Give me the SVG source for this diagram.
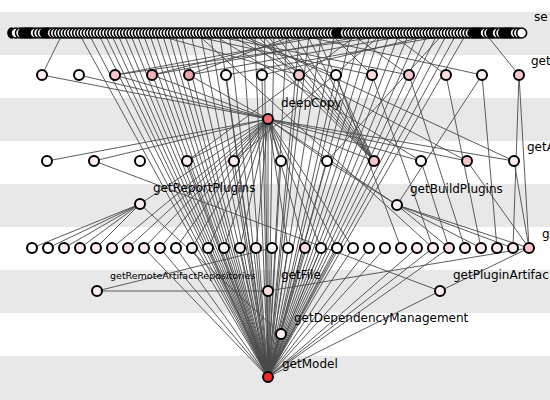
<svg xmlns="http://www.w3.org/2000/svg" width="550" height="400" viewBox="0 0 550 400">
<style>
.bg{fill:#e8e8e8}
.e line{stroke:#4a4a4a;stroke-width:0.9}
.n circle{stroke:#000;stroke-width:2;fill:#fff}
.t circle{stroke:#000;stroke-width:1.6;fill:#fff}
.pk{fill:#000}
circle.p1{fill:#fdeef0}
circle.p2{fill:#fbdde1}
circle.p3{fill:#f7c6cb}
circle.p4{fill:#f3b3ba}
circle.p5{fill:#ef9fa8}
circle.dc{fill:#f06b73}
circle.gm{fill:#ee2b2b}
text{font-family:"DejaVu Sans","Liberation Sans",sans-serif;font-size:12px;fill:#000}
</style>
<rect width="550" height="400" fill="#fff"/>
<rect class="bg" x="0" y="12" width="550" height="43"/>
<rect class="bg" x="0" y="98" width="550" height="43"/>
<rect class="bg" x="0" y="184" width="550" height="43"/>
<rect class="bg" x="0" y="270" width="550" height="43"/>
<rect class="bg" x="0" y="356" width="550" height="44"/>
<g id="connectors" class="e">
<line x1="78.8" y1="33" x2="268" y2="377"/><line x1="88.4" y1="33" x2="268" y2="377"/><line x1="98" y1="33" x2="268" y2="377"/><line x1="104.4" y1="33" x2="268" y2="377"/><line x1="110.8" y1="33" x2="268" y2="377"/><line x1="117.2" y1="33" x2="268" y2="377"/><line x1="123.6" y1="33" x2="268" y2="377"/><line x1="130" y1="33" x2="268" y2="377"/><line x1="136.4" y1="33" x2="268" y2="377"/><line x1="142.8" y1="33" x2="268" y2="377"/><line x1="149.2" y1="33" x2="268" y2="377"/><line x1="155.6" y1="33" x2="268" y2="377"/><line x1="162" y1="33" x2="268" y2="377"/><line x1="168.4" y1="33" x2="268" y2="377"/><line x1="174.8" y1="33" x2="268" y2="377"/><line x1="181.2" y1="33" x2="268" y2="377"/><line x1="190.8" y1="33" x2="268" y2="377"/><line x1="200.4" y1="33" x2="268" y2="377"/><line x1="210" y1="33" x2="268" y2="377"/><line x1="219.6" y1="33" x2="268" y2="377"/><line x1="229.2" y1="33" x2="268" y2="377"/><line x1="242" y1="33" x2="268" y2="377"/><line x1="254.8" y1="33" x2="268" y2="377"/><line x1="264.4" y1="33" x2="268" y2="377"/><line x1="274" y1="33" x2="268" y2="377"/><line x1="286.8" y1="33" x2="268" y2="377"/><line x1="299.6" y1="33" x2="268" y2="377"/><line x1="309.2" y1="33" x2="268" y2="377"/><line x1="322" y1="33" x2="268" y2="377"/><line x1="334.8" y1="33" x2="268" y2="377"/><line x1="351.4" y1="33" x2="268" y2="377"/><line x1="361" y1="33" x2="268" y2="377"/><line x1="370.6" y1="33" x2="268" y2="377"/><line x1="380.2" y1="33" x2="268" y2="377"/><line x1="389.8" y1="33" x2="268" y2="377"/><line x1="399.4" y1="33" x2="268" y2="377"/><line x1="409" y1="33" x2="268" y2="377"/><line x1="418.6" y1="33" x2="268" y2="377"/><line x1="428.2" y1="33" x2="268" y2="377"/><line x1="437.8" y1="33" x2="268" y2="377"/><line x1="447.4" y1="33" x2="268" y2="377"/><line x1="457" y1="33" x2="268" y2="377"/><line x1="466.6" y1="33" x2="268" y2="377"/>
<line x1="62.8" y1="33" x2="42" y2="75"/><line x1="340" y1="33" x2="115" y2="75"/><line x1="380" y1="33" x2="152" y2="75"/><line x1="300" y1="33" x2="189" y2="75"/><line x1="420" y1="33" x2="189" y2="75"/><line x1="150" y1="33" x2="299" y2="75"/><line x1="260" y1="33" x2="299" y2="75"/><line x1="180" y1="33" x2="372" y2="75"/><line x1="330" y1="33" x2="372" y2="75"/><line x1="200" y1="33" x2="409" y2="75"/><line x1="350" y1="33" x2="409" y2="75"/><line x1="390" y1="33" x2="446" y2="75"/><line x1="440" y1="33" x2="262" y2="75"/><line x1="460" y1="33" x2="226" y2="75"/><line x1="485" y1="33" x2="519" y2="75"/><line x1="230" y1="33" x2="336" y2="75"/><line x1="290" y1="33" x2="482" y2="75"/><line x1="405" y1="33" x2="115" y2="75"/><line x1="320" y1="33" x2="152" y2="75"/>
<line x1="245" y1="33" x2="374" y2="161"/><line x1="255" y1="33" x2="374" y2="161"/><line x1="265" y1="33" x2="374" y2="161"/><line x1="274" y1="33" x2="374" y2="161"/><line x1="283.6" y1="33" x2="374" y2="161"/><line x1="293.2" y1="33" x2="374" y2="161"/><line x1="306" y1="33" x2="374" y2="161"/><line x1="315.6" y1="33" x2="374" y2="161"/>
<line x1="210" y1="33" x2="421" y2="161"/><line x1="225" y1="33" x2="467" y2="161"/><line x1="238" y1="33" x2="514" y2="161"/><line x1="360" y1="33" x2="187" y2="161"/><line x1="383" y1="33" x2="234" y2="161"/><line x1="196" y1="33" x2="433" y2="248"/><line x1="444" y1="33" x2="327" y2="161"/>
<line x1="268" y1="119" x2="187" y2="161"/><line x1="268" y1="119" x2="234" y2="161"/><line x1="268" y1="119" x2="281" y2="161"/><line x1="268" y1="119" x2="327" y2="161"/><line x1="268" y1="119" x2="374" y2="161"/><line x1="268" y1="119" x2="421" y2="161"/><line x1="268" y1="119" x2="467" y2="161"/><line x1="268" y1="119" x2="514" y2="161"/>
<line x1="268" y1="119" x2="112" y2="248"/><line x1="268" y1="119" x2="128" y2="248"/><line x1="268" y1="119" x2="144" y2="248"/><line x1="268" y1="119" x2="160" y2="248"/><line x1="268" y1="119" x2="176" y2="248"/><line x1="268" y1="119" x2="192" y2="248"/><line x1="268" y1="119" x2="208" y2="248"/><line x1="268" y1="119" x2="224" y2="248"/><line x1="268" y1="119" x2="240" y2="248"/><line x1="268" y1="119" x2="256" y2="248"/><line x1="268" y1="119" x2="288" y2="248"/><line x1="268" y1="119" x2="305" y2="248"/><line x1="268" y1="119" x2="321" y2="248"/><line x1="268" y1="119" x2="337" y2="248"/><line x1="268" y1="119" x2="353" y2="248"/>
<line x1="268" y1="119" x2="140" y2="204"/><line x1="268" y1="119" x2="397" y2="205"/><line x1="268" y1="119" x2="268" y2="291"/>
<line x1="42" y1="75" x2="268" y2="119"/><line x1="79" y1="75" x2="268" y2="119"/><line x1="115" y1="75" x2="268" y2="119"/><line x1="152" y1="75" x2="268" y2="119"/><line x1="189" y1="75" x2="268" y2="119"/><line x1="47" y1="161" x2="268" y2="119"/><line x1="94" y1="161" x2="268" y2="119"/>
<line x1="226" y1="75" x2="268" y2="377"/><line x1="262" y1="75" x2="268" y2="377"/><line x1="299" y1="75" x2="268" y2="377"/><line x1="336" y1="75" x2="268" y2="377"/>
<line x1="372" y1="75" x2="433" y2="248"/><line x1="409" y1="75" x2="465" y2="248"/><line x1="446" y1="75" x2="481" y2="248"/><line x1="482" y1="75" x2="497" y2="248"/><line x1="519" y1="75" x2="513" y2="248"/><line x1="519" y1="75" x2="529" y2="248"/><line x1="336" y1="75" x2="401" y2="248"/><line x1="482" y1="75" x2="397" y2="205"/>
<line x1="94" y1="161" x2="440" y2="291"/><line x1="514" y1="161" x2="529" y2="248"/><line x1="467" y1="161" x2="529" y2="248"/><line x1="327" y1="161" x2="397" y2="205"/><line x1="187" y1="161" x2="268" y2="377"/><line x1="234" y1="161" x2="268" y2="377"/><line x1="281" y1="161" x2="268" y2="377"/><line x1="327" y1="161" x2="268" y2="377"/><line x1="421" y1="161" x2="449" y2="248"/>
<line x1="140" y1="204" x2="32" y2="248"/><line x1="140" y1="204" x2="48" y2="248"/><line x1="140" y1="204" x2="64" y2="248"/><line x1="140" y1="204" x2="80" y2="248"/><line x1="140" y1="204" x2="96" y2="248"/><line x1="140" y1="204" x2="281" y2="334"/>
<line x1="397" y1="205" x2="449" y2="248"/><line x1="397" y1="205" x2="481" y2="248"/><line x1="397" y1="205" x2="513" y2="248"/><line x1="397" y1="205" x2="529" y2="248"/>
<line x1="144" y1="248" x2="268" y2="377"/><line x1="160" y1="248" x2="268" y2="377"/><line x1="176" y1="248" x2="268" y2="377"/><line x1="192" y1="248" x2="268" y2="377"/><line x1="208" y1="248" x2="268" y2="377"/><line x1="224" y1="248" x2="268" y2="377"/><line x1="240" y1="248" x2="268" y2="377"/><line x1="256" y1="248" x2="268" y2="377"/><line x1="272" y1="248" x2="268" y2="377"/><line x1="288" y1="248" x2="268" y2="377"/><line x1="305" y1="248" x2="268" y2="377"/><line x1="321" y1="248" x2="268" y2="377"/><line x1="337" y1="248" x2="268" y2="377"/><line x1="353" y1="248" x2="268" y2="377"/><line x1="369" y1="248" x2="268" y2="377"/><line x1="385" y1="248" x2="268" y2="377"/><line x1="417" y1="248" x2="268" y2="377"/><line x1="433" y1="248" x2="268" y2="377"/><line x1="449" y1="248" x2="268" y2="377"/>
<line x1="97" y1="291" x2="272" y2="248"/><line x1="97" y1="291" x2="268" y2="291"/><line x1="268" y1="291" x2="529" y2="248"/><line x1="268" y1="291" x2="268" y2="377"/><line x1="440" y1="291" x2="268" y2="377"/><line x1="440" y1="291" x2="529" y2="248"/><line x1="281" y1="334" x2="268" y2="377"/>
</g>
<g id="toprow" class="t">
<rect class="pk" x="7.2" y="27.2" width="8.8" height="11.6" rx="5.8"/>
<g id="t1"><circle cx="16" cy="33" r="5"/></g><g id="t2"><circle cx="20.5" cy="33" r="5"/></g>
<rect class="pk" x="17.9" y="27.2" width="19.7" height="11.6" rx="5.8"/>
<g id="t3"><circle cx="35" cy="33" r="5"/></g><g id="t4"><circle cx="38.5" cy="33" r="5"/></g><g id="t5"><circle cx="42" cy="33" r="5"/></g>
<rect class="pk" x="39.4" y="27.2" width="15.2" height="11.6" rx="5.8"/>
<g id="t6"><circle class="p2" cx="52" cy="33" r="5"/></g><g id="t7"><circle cx="55.2" cy="33" r="5"/></g><g id="t8"><circle cx="58.4" cy="33" r="5"/></g><g id="t9"><circle cx="61.6" cy="33" r="5"/></g><g id="t10"><circle cx="64.8" cy="33" r="5"/></g><g id="t11"><circle cx="68" cy="33" r="5"/></g><g id="t12"><circle cx="71.2" cy="33" r="5"/></g><g id="t13"><circle cx="74.4" cy="33" r="5"/></g><g id="t14"><circle cx="77.6" cy="33" r="5"/></g><g id="t15"><circle cx="80.8" cy="33" r="5"/></g><g id="t16"><circle cx="84" cy="33" r="5"/></g><g id="t17"><circle cx="87.2" cy="33" r="5"/></g><g id="t18"><circle cx="90.4" cy="33" r="5"/></g><g id="t19"><circle cx="93.6" cy="33" r="5"/></g><g id="t20"><circle cx="96.8" cy="33" r="5"/></g><g id="t21"><circle cx="100" cy="33" r="5"/></g><g id="t22"><circle cx="103.2" cy="33" r="5"/></g><g id="t23"><circle cx="106.4" cy="33" r="5"/></g><g id="t24"><circle cx="109.6" cy="33" r="5"/></g><g id="t25"><circle cx="112.8" cy="33" r="5"/></g><g id="t26"><circle cx="116" cy="33" r="5"/></g><g id="t27"><circle cx="119.2" cy="33" r="5"/></g><g id="t28"><circle cx="122.4" cy="33" r="5"/></g><g id="t29"><circle cx="125.6" cy="33" r="5"/></g><g id="t30"><circle cx="128.8" cy="33" r="5"/></g><g id="t31"><circle cx="132" cy="33" r="5"/></g><g id="t32"><circle cx="135.2" cy="33" r="5"/></g><g id="t33"><circle cx="138.4" cy="33" r="5"/></g><g id="t34"><circle cx="141.6" cy="33" r="5"/></g><g id="t35"><circle cx="144.8" cy="33" r="5"/></g><g id="t36"><circle cx="148" cy="33" r="5"/></g><g id="t37"><circle cx="151.2" cy="33" r="5"/></g><g id="t38"><circle cx="154.4" cy="33" r="5"/></g><g id="t39"><circle cx="157.6" cy="33" r="5"/></g><g id="t40"><circle cx="160.8" cy="33" r="5"/></g><g id="t41"><circle cx="164" cy="33" r="5"/></g><g id="t42"><circle cx="167.2" cy="33" r="5"/></g><g id="t43"><circle cx="170.4" cy="33" r="5"/></g><g id="t44"><circle cx="173.6" cy="33" r="5"/></g><g id="t45"><circle cx="176.8" cy="33" r="5"/></g><g id="t46"><circle cx="180" cy="33" r="5"/></g><g id="t47"><circle cx="183.2" cy="33" r="5"/></g><g id="t48"><circle cx="186.4" cy="33" r="5"/></g><g id="t49"><circle cx="189.6" cy="33" r="5"/></g><g id="t50"><circle cx="192.8" cy="33" r="5"/></g><g id="t51"><circle cx="196" cy="33" r="5"/></g><g id="t52"><circle cx="199.2" cy="33" r="5"/></g><g id="t53"><circle cx="202.4" cy="33" r="5"/></g><g id="t54"><circle cx="205.6" cy="33" r="5"/></g><g id="t55"><circle cx="208.8" cy="33" r="5"/></g><g id="t56"><circle cx="212" cy="33" r="5"/></g><g id="t57"><circle cx="215.2" cy="33" r="5"/></g><g id="t58"><circle cx="218.4" cy="33" r="5"/></g><g id="t59"><circle cx="221.6" cy="33" r="5"/></g><g id="t60"><circle cx="224.8" cy="33" r="5"/></g><g id="t61"><circle cx="228" cy="33" r="5"/></g><g id="t62"><circle cx="231.2" cy="33" r="5"/></g><g id="t63"><circle cx="234.4" cy="33" r="5"/></g><g id="t64"><circle cx="237.6" cy="33" r="5"/></g><g id="t65"><circle cx="240.8" cy="33" r="5"/></g><g id="t66"><circle cx="244" cy="33" r="5"/></g><g id="t67"><circle cx="247.2" cy="33" r="5"/></g><g id="t68"><circle cx="250.4" cy="33" r="5"/></g><g id="t69"><circle cx="253.6" cy="33" r="5"/></g><g id="t70"><circle cx="256.8" cy="33" r="5"/></g><g id="t71"><circle cx="260" cy="33" r="5"/></g><g id="t72"><circle cx="263.2" cy="33" r="5"/></g><g id="t73"><circle cx="266.4" cy="33" r="5"/></g><g id="t74"><circle cx="269.6" cy="33" r="5"/></g><g id="t75"><circle cx="272.8" cy="33" r="5"/></g><g id="t76"><circle cx="276" cy="33" r="5"/></g><g id="t77"><circle cx="279.2" cy="33" r="5"/></g><g id="t78"><circle cx="282.4" cy="33" r="5"/></g><g id="t79"><circle cx="285.6" cy="33" r="5"/></g><g id="t80"><circle cx="288.8" cy="33" r="5"/></g><g id="t81"><circle cx="292" cy="33" r="5"/></g><g id="t82"><circle cx="295.2" cy="33" r="5"/></g><g id="t83"><circle cx="298.4" cy="33" r="5"/></g><g id="t84"><circle cx="301.6" cy="33" r="5"/></g><g id="t85"><circle cx="304.8" cy="33" r="5"/></g><g id="t86"><circle cx="308" cy="33" r="5"/></g><g id="t87"><circle cx="311.2" cy="33" r="5"/></g><g id="t88"><circle cx="314.4" cy="33" r="5"/></g><g id="t89"><circle cx="317.6" cy="33" r="5"/></g><g id="t90"><circle cx="320.8" cy="33" r="5"/></g><g id="t91"><circle cx="324" cy="33" r="5"/></g><g id="t92"><circle cx="327.2" cy="33" r="5"/></g><g id="t93"><circle cx="330.4" cy="33" r="5"/></g><g id="t94"><circle cx="333.6" cy="33" r="5"/></g>
<rect class="pk" x="331" y="27.2" width="16.6" height="11.6" rx="5.8"/>
<g id="t95"><circle cx="345" cy="33" r="5"/></g><g id="t96"><circle cx="348.2" cy="33" r="5"/></g><g id="t97"><circle cx="351.4" cy="33" r="5"/></g><g id="t98"><circle cx="354.6" cy="33" r="5"/></g><g id="t99"><circle cx="357.8" cy="33" r="5"/></g><g id="t100"><circle cx="361" cy="33" r="5"/></g><g id="t101"><circle cx="364.2" cy="33" r="5"/></g><g id="t102"><circle cx="367.4" cy="33" r="5"/></g><g id="t103"><circle cx="370.6" cy="33" r="5"/></g><g id="t104"><circle cx="373.8" cy="33" r="5"/></g><g id="t105"><circle cx="377" cy="33" r="5"/></g><g id="t106"><circle cx="380.2" cy="33" r="5"/></g><g id="t107"><circle cx="383.4" cy="33" r="5"/></g><g id="t108"><circle cx="386.6" cy="33" r="5"/></g><g id="t109"><circle cx="389.8" cy="33" r="5"/></g><g id="t110"><circle cx="393" cy="33" r="5"/></g><g id="t111"><circle cx="396.2" cy="33" r="5"/></g><g id="t112"><circle cx="399.4" cy="33" r="5"/></g><g id="t113"><circle cx="402.6" cy="33" r="5"/></g><g id="t114"><circle cx="405.8" cy="33" r="5"/></g><g id="t115"><circle cx="409" cy="33" r="5"/></g><g id="t116"><circle cx="412.2" cy="33" r="5"/></g><g id="t117"><circle cx="415.4" cy="33" r="5"/></g><g id="t118"><circle cx="418.6" cy="33" r="5"/></g><g id="t119"><circle cx="421.8" cy="33" r="5"/></g><g id="t120"><circle cx="425" cy="33" r="5"/></g><g id="t121"><circle cx="428.2" cy="33" r="5"/></g><g id="t122"><circle cx="431.4" cy="33" r="5"/></g><g id="t123"><circle cx="434.6" cy="33" r="5"/></g><g id="t124"><circle cx="437.8" cy="33" r="5"/></g><g id="t125"><circle cx="441" cy="33" r="5"/></g><g id="t126"><circle cx="444.2" cy="33" r="5"/></g><g id="t127"><circle cx="447.4" cy="33" r="5"/></g><g id="t128"><circle cx="450.6" cy="33" r="5"/></g><g id="t129"><circle cx="453.8" cy="33" r="5"/></g><g id="t130"><circle cx="457" cy="33" r="5"/></g><g id="t131"><circle cx="460.2" cy="33" r="5"/></g><g id="t132"><circle cx="463.4" cy="33" r="5"/></g><g id="t133"><circle cx="466.6" cy="33" r="5"/></g><g id="t134"><circle cx="469.8" cy="33" r="5"/></g>
<rect class="pk" x="467.2" y="27.2" width="20.4" height="11.6" rx="5.8"/>
<g id="t135"><circle cx="485" cy="33" r="5"/></g><g id="t136"><circle cx="488.5" cy="33" r="5"/></g>
<rect class="pk" x="485.9" y="27.2" width="13.7" height="11.6" rx="5.8"/>
<g id="t137"><circle cx="497" cy="33" r="5"/></g><g id="t138"><circle cx="500.5" cy="33" r="5"/></g>
<rect class="pk" x="497.9" y="27.2" width="19.7" height="11.6" rx="5.8"/>
<g id="t139"><circle cx="515" cy="33" r="5"/></g><g id="t140"><circle cx="518.3" cy="33" r="5"/></g><g id="t141"><circle cx="521.6" cy="33" r="5"/></g>
</g>
<g class="n">
<g id="r2a"><circle class="p1" cx="42" cy="75" r="5"/></g>
<g id="r2b"><circle cx="79" cy="75" r="5"/></g>
<g id="r2c"><circle class="p3" cx="115" cy="75" r="5"/></g>
<g id="r2d"><circle class="p4" cx="152" cy="75" r="5"/></g>
<g id="r2e"><circle class="p5" cx="189" cy="75" r="5"/></g>
<g id="r2f"><circle cx="226" cy="75" r="5"/></g>
<g id="r2g"><circle cx="262" cy="75" r="5"/></g>
<g id="r2h"><circle class="p3" cx="299" cy="75" r="5"/></g>
<g id="r2i"><circle cx="336" cy="75" r="5"/></g>
<g id="r2j"><circle class="p2" cx="372" cy="75" r="5"/></g>
<g id="r2k"><circle class="p3" cx="409" cy="75" r="5"/></g>
<g id="r2l"><circle class="p2" cx="446" cy="75" r="5"/></g>
<g id="r2m"><circle class="p1" cx="482" cy="75" r="5"/></g>
<g id="r2n"><circle class="p3" cx="519" cy="75" r="5"/></g>
<g id="deepCopy"><circle class="dc" cx="268" cy="119" r="5"/></g>
<g id="r4a"><circle cx="47" cy="161" r="5"/></g>
<g id="r4b"><circle class="p1" cx="94" cy="161" r="5"/></g>
<g id="r4c"><circle cx="140" cy="161" r="5"/></g>
<g id="r4d"><circle class="p1" cx="187" cy="161" r="5"/></g>
<g id="r4e"><circle class="p1" cx="234" cy="161" r="5"/></g>
<g id="r4f"><circle cx="281" cy="161" r="5"/></g>
<g id="r4g"><circle cx="327" cy="161" r="5"/></g>
<g id="r4h"><circle class="p3" cx="374" cy="161" r="5"/></g>
<g id="r4i"><circle cx="421" cy="161" r="5"/></g>
<g id="r4j"><circle class="p3" cx="467" cy="161" r="5"/></g>
<g id="r4k"><circle class="p1" cx="514" cy="161" r="5"/></g>
<g id="getReportPlugins"><circle class="p1" cx="140" cy="204" r="5"/></g>
<g id="getBuildPlugins"><circle class="p1" cx="397" cy="205" r="5"/></g>
<g id="r6a"><circle cx="32" cy="248" r="5"/></g>
<g id="r6b"><circle cx="48" cy="248" r="5"/></g>
<g id="r6c"><circle class="p1" cx="64" cy="248" r="5"/></g>
<g id="r6d"><circle class="p1" cx="80" cy="248" r="5"/></g>
<g id="r6e"><circle class="p1" cx="96" cy="248" r="5"/></g>
<g id="r6f"><circle class="p1" cx="112" cy="248" r="5"/></g>
<g id="r6g"><circle class="p2" cx="128" cy="248" r="5"/></g>
<g id="r6h"><circle class="p1" cx="144" cy="248" r="5"/></g>
<g id="r6i"><circle class="p1" cx="160" cy="248" r="5"/></g>
<g id="r6j"><circle cx="176" cy="248" r="5"/></g>
<g id="r6k"><circle class="p1" cx="192" cy="248" r="5"/></g>
<g id="r6l"><circle cx="208" cy="248" r="5"/></g>
<g id="r6m"><circle cx="224" cy="248" r="5"/></g>
<g id="r6n"><circle class="p1" cx="240" cy="248" r="5"/></g>
<g id="r6o"><circle class="p1" cx="256" cy="248" r="5"/></g>
<g id="r6p"><circle cx="272" cy="248" r="5"/></g>
<g id="r6q"><circle cx="288" cy="248" r="5"/></g>
<g id="r6r"><circle class="p2" cx="305" cy="248" r="5"/></g>
<g id="r6s"><circle cx="321" cy="248" r="5"/></g>
<g id="r6t"><circle cx="337" cy="248" r="5"/></g>
<g id="r6u"><circle cx="353" cy="248" r="5"/></g>
<g id="r6v"><circle cx="369" cy="248" r="5"/></g>
<g id="r6w"><circle cx="385" cy="248" r="5"/></g>
<g id="r6x"><circle class="p1" cx="401" cy="248" r="5"/></g>
<g id="r6y"><circle class="p1" cx="417" cy="248" r="5"/></g>
<g id="r6z"><circle class="p1" cx="433" cy="248" r="5"/></g>
<g id="r6aa"><circle class="p2" cx="449" cy="248" r="5"/></g>
<g id="r6ab"><circle class="p1" cx="465" cy="248" r="5"/></g>
<g id="r6ac"><circle class="p1" cx="481" cy="248" r="5"/></g>
<g id="r6ad"><circle class="p1" cx="497" cy="248" r="5"/></g>
<g id="r6ae"><circle class="p1" cx="513" cy="248" r="5"/></g>
<g id="r6af"><circle class="p3" cx="529" cy="248" r="5"/></g>
<g id="getRemoteArtifactRepositories"><circle class="p1" cx="97" cy="291" r="5"/></g>
<g id="getFile"><circle class="p2" cx="268" cy="291" r="5"/></g>
<g id="getPluginArtifact"><circle class="p1" cx="440" cy="291" r="5"/></g>
<g id="getDependencyManagement"><circle class="p1" cx="281" cy="334" r="5"/></g>
<g id="getModel"><circle class="gm" cx="268" cy="377" r="5"/></g>
</g>
<g id="labels">
<text x="534" y="21">se</text>
<text x="531" y="65">get</text>
<text x="281" y="107">deepCopy</text>
<text x="527" y="151">getA</text>
<text x="153" y="192">getReportPlugins</text>
<text x="410" y="193">getBuildPlugins</text>
<text x="542" y="238">g</text>
<text x="110" y="279" style="font-size:9.5px">getRemoteArtifactRepositories</text>
<text x="281" y="279">getFile</text>
<text x="453" y="279">getPluginArtifac</text>
<text x="294" y="322">getDependencyManagement</text>
<text x="282" y="368">getModel</text>
</g>
</svg>
